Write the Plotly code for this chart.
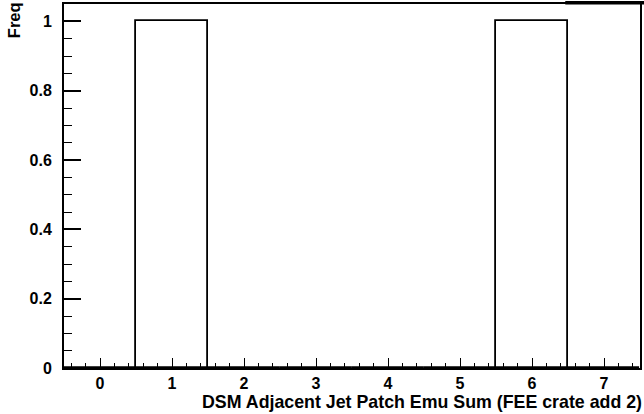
import plotly.graph_objects as go

bins = [0, 1, 2, 3, 4, 5, 6, 7]
counts = [0, 1, 0, 0, 0, 0, 1, 0]
x_ticks = [0, 1, 2, 3, 4, 5, 6, 7]
y_ticks = [0, 0.2, 0.4, 0.6, 0.8, 1]
y_ticktext = ["0", "0.2", "0.4", "0.6", "0.8", "1"]
x_title = "DSM Adjacent Jet Patch Emu Sum (FEE crate add 2)"
y_title = "Freq"

W, H = 644, 414
L, R, T, B = 64, 2, 2, 46

FONT = "Liberation Sans, Arial, sans-serif"
TICKFONT = dict(family=FONT, size=16, color="black", weight="bold")

fig = go.Figure()
fig.add_trace(go.Bar(
    x=bins, y=counts, width=1,
    marker=dict(color="white", line=dict(color="black", width=1.8)),
    showlegend=False,
))

fig.update_layout(
    width=W, height=H,
    margin=dict(l=L, r=R, t=T, b=B),
    paper_bgcolor="white", plot_bgcolor="white",
    font=dict(family=FONT, size=16, color="black"),
    bargap=0,
)
fig.update_xaxes(
    range=[-0.5, 7.5], showgrid=False, zeroline=False,
    showline=True, linecolor="black", linewidth=1.5, mirror=True,
    tickmode="array", tickvals=x_ticks,
    ticktext=["<b>%d</b>" % v for v in x_ticks],
    ticks="inside", ticklen=10, tickwidth=1.3, tickcolor="black",
    tickfont=TICKFONT, ticklabelstandoff=0,
    minor=dict(ticks="inside", ticklen=5, tickwidth=1.2, tickcolor="black", dtick=0.2, tick0=0, showgrid=False),
)
fig.update_yaxes(
    range=[0, 1.05], showgrid=False, zeroline=False,
    showline=True, linecolor="black", linewidth=2, mirror=True,
    tickmode="array", tickvals=y_ticks,
    ticktext=["<b>%s</b>" % t for t in y_ticktext],
    ticks="inside", ticklen=17, tickwidth=1.5, tickcolor="black",
    tickfont=TICKFONT, ticklabelstandoff=7,
    minor=dict(ticks="inside", ticklen=8, tickwidth=1.3, tickcolor="black", dtick=0.05, tick0=0, showgrid=False),
)

fig.add_annotation(
    text="<b>%s</b>" % x_title, xref="paper", yref="paper", x=1.007, y=-(402 - 368) / 366,
    xanchor="right", yanchor="middle", showarrow=False,
    font=dict(family=FONT, size=17.8, color="black", weight="bold"),
)
fig.add_annotation(
    text="<b>%s</b>" % y_title, xref="paper", yref="paper", x=-(64 - 14) / 578, y=1 + 4 / 366,
    xanchor="center", yanchor="top", textangle=-90, showarrow=False,
    font=dict(family=FONT, size=16.5, color="black", weight="bold"),
)
fig.add_shape(
    type="rect", xref="paper", yref="paper",
    x0=(567 - 64) / 578, x1=1.01, y0=1 - 0.5 / 366, y1=1 + 3 / 366,
    fillcolor="black", line=dict(width=0),
)

fig.write_html(
    "out.html",
    config={"displayModeBar": False},
    post_script="document.body.style.margin='0';document.body.style.padding='0';",
)
